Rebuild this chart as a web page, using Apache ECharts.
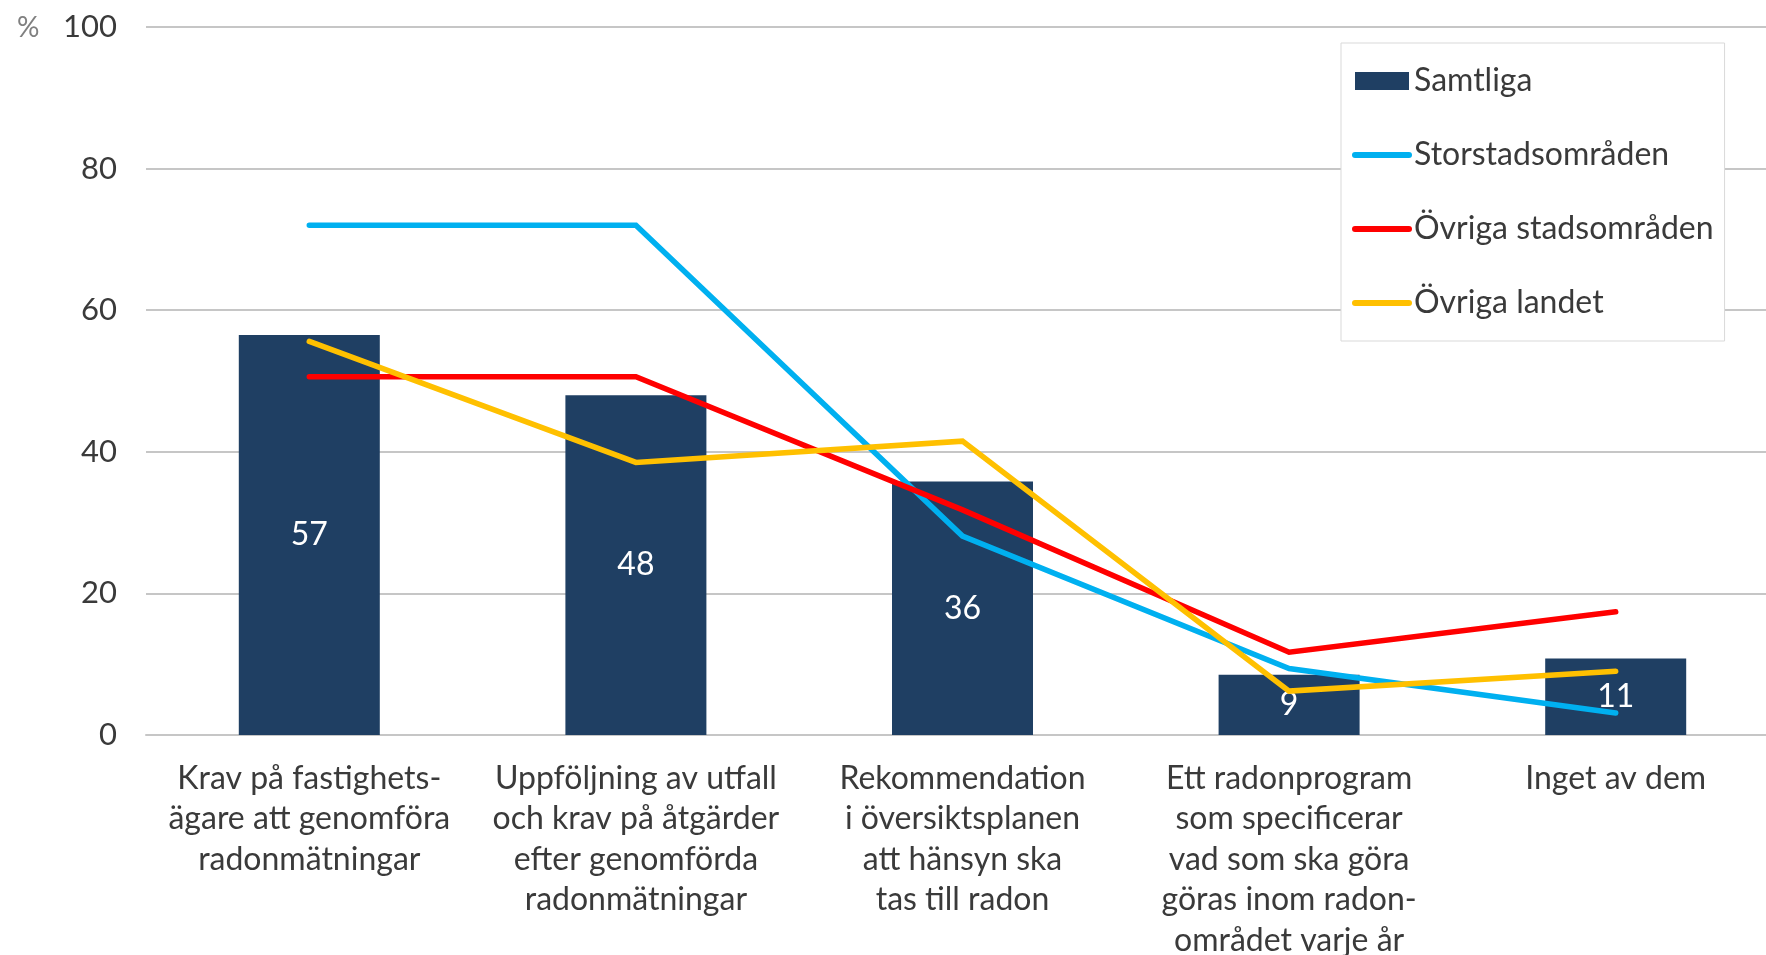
<!DOCTYPE html>
<html>
<head>
<meta charset="utf-8">
<script src="https://cdn.jsdelivr.net/npm/echarts@6/dist/echarts.min.js"></script>
<style>
  html, body { margin: 0; padding: 0; background: #fff; }
  #chart { width: 1766px; height: 955px; }
</style>
</head>
<body>
<div id="chart"></div>
<script>
var categories = [
    'Krav på fastighets-\nägare att genomföra\nradonmätningar',
    'Uppföljning av utfall\noch krav på åtgärder\nefter genomförda\nradonmätningar',
    'Rekommendation\ni översiktsplanen\natt hänsyn ska\ntas till radon',
    'Ett radonprogram\nsom specificerar\nvad som ska göra\ngöras inom radon-\nområdet varje år',
    'Inget av dem'
];

var samtliga = [56.5, 48, 35.8, 8.5, 10.8];
var storstad = [72, 72, 28.1, 9.4, 3.1];
var ovrigaStad = [50.6, 50.6, 31.8, 11.7, 17.4];
var ovrigaLandet = [55.6, 38.5, 41.5, 6.2, 9.0];

var yTicks = [0, 20, 40, 60, 80, 100];

var font = 'Lato, "Open Sans", sans-serif';
var textColor = '#3a3a3a';

var chart = echarts.init(document.getElementById('chart'));

function lineSeries(name, data, color)
{
    return {
	name: name,
	type: 'line',
	data: data,
	symbol: 'none',
	z: 3,
	itemStyle: {color: color},
	lineStyle: {color: color, width: 5.5, cap: 'round', join: 'miter'}
    };
}

function legendLine(name)
{
    return {name: name, itemStyle: {opacity: 0}};
}

chart.setOption({
    animation: false,
    title: {
	text: '%',
	left: 12,
	top: 9,
	textStyle: {fontFamily: font, fontWeight: 'normal', fontSize: 28, color: '#808080'}
    },
    // the plot runs a little past the right edge, as in the original
    grid: {left: 146, top: 27, width: 1633, height: 708, outerBoundsMode: 'none'},
    legend: {
	orient: 'vertical',
	left: 1341,
	top: 43,
	padding: [20, 11, 20, 11],
	borderColor: '#d9d9d9',
	borderWidth: 1,
	backgroundColor: '#fff',
	itemWidth: 54,
	itemHeight: 18,
	itemGap: 38,
	lineStyle: {width: 6, cap: 'round'},
	textStyle: {fontFamily: font, fontSize: 32, color: textColor, lineHeight: 36},
	data: [
	    {name: 'Samtliga', icon: 'rect'},
	    legendLine('Storstadsområden'),
	    legendLine('Övriga stadsområden'),
	    legendLine('Övriga landet')
	]
    },
    xAxis: {
	type: 'category',
	data: categories,
	axisTick: {show: false},
	axisLine: {lineStyle: {color: '#c6c6c6', width: 2}},
	axisLabel: {
	    interval: 0,
	    margin: 23,
	    fontFamily: font,
	    fontSize: 32,
	    lineHeight: 40.5,
	    color: textColor,
	    align: 'center'
	}
    },
    yAxis: {
	type: 'value',
	min: yTicks[0],
	max: yTicks[yTicks.length - 1],
	interval: yTicks[1] - yTicks[0],
	axisLine: {show: false},
	axisTick: {show: false},
	splitLine: {lineStyle: {color: '#c6c6c6', width: 2}},
	axisLabel: {margin: 29, fontFamily: font, fontSize: 31, color: textColor}
    },
    series: [
	{
	    name: 'Samtliga',
	    type: 'bar',
	    data: samtliga,
	    barWidth: 141,
	    itemStyle: {color: '#1f3f63'},
	    label: {
		show: true,
		position: 'inside',
		color: '#fff',
		fontFamily: font,
		fontSize: 32,
		formatter: function (p) { return Math.round(p.value); }
	    }
	},
	lineSeries('Storstadsområden', storstad, '#00b0f0'),
	lineSeries('Övriga stadsområden', ovrigaStad, '#ff0000'),
	lineSeries('Övriga landet', ovrigaLandet, '#ffc000')
    ]
});
</script>
</body>
</html>
